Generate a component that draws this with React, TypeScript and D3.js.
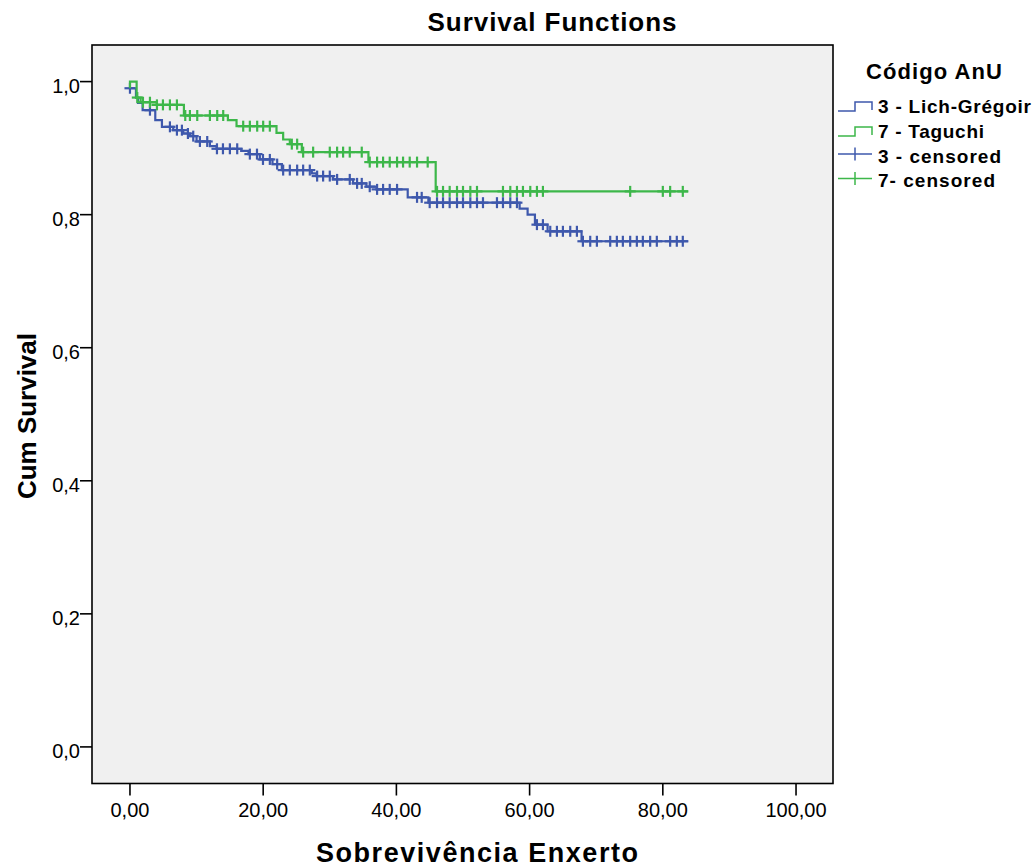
import React from 'react';
import * as d3 from 'd3';

// ---- data ----
const xTicks = [0, 20, 40, 60, 80, 100];
const yTicks = [0, 0.2, 0.4, 0.6, 0.8, 1.0];

const blueStepTimes = [0, 0.9, 1.2, 1.9, 3.8, 4.8, 6.5, 8.0, 9.0, 10.0, 12.0, 13.0, 16.7, 17.8, 19.5, 21.4, 22.8, 27.3, 28.0, 30.5, 33.5, 35.5, 37.0, 41.7, 44.8, 58.5, 59.7, 60.8, 62.7, 67.8];
const blueStepSurv = [0.99, 0.976, 0.968, 0.957, 0.942, 0.932, 0.927, 0.922, 0.918, 0.91, 0.903, 0.899, 0.896, 0.891, 0.883, 0.876, 0.867, 0.862, 0.858, 0.853, 0.847, 0.842, 0.838, 0.826, 0.818, 0.809, 0.8, 0.785, 0.775, 0.76];
const blueCensorTimes = [0, 3.0, 6.0, 7.05, 7.8, 8.7, 9.5, 10.5, 11.6, 13.06, 13.96, 15.0, 16.1, 18.0, 19.07, 19.97, 21.0, 22.1, 23.0, 24.0, 25.1, 26.0, 27.0, 28.1, 29.0, 30.0, 31.1, 33.0, 34.1, 34.8, 36.0, 37.1, 38.0, 39.0, 40.1, 43.1, 43.8, 45.0, 46.1, 47.0, 48.0, 49.1, 50.0, 51.1, 52.1, 53.0, 55.1, 56.0, 57.1, 58.1, 61.1, 62.0, 63.1, 64.1, 65.0, 66.1, 67.1, 68.0, 69.1, 70.1, 72.1, 73.1, 74.0, 75.1, 76.1, 77.0, 78.1, 79.1, 81.1, 82.1, 83.0];
const blueEndTime = 83.8;

const greenStepTimes = [0, 0, 1.0, 1.6, 4.0, 8.1, 14.7, 16.0, 22.0, 23.0, 24.0, 25.8, 35.8, 45.9];
const greenStepSurv = [0.99, 1.0, 0.976, 0.969, 0.965, 0.949, 0.942, 0.933, 0.923, 0.913, 0.906, 0.894, 0.879, 0.835];
const greenCensorTimes = [1.1, 1.95, 3.0, 4.05, 4.95, 6.0, 7.05, 8.3, 9.0, 10.1, 12.0, 13.1, 14.0, 17.0, 18.0, 19.1, 20.0, 21.0, 24.3, 25.1, 26.0, 27.5, 30.0, 31.1, 32.0, 33.0, 34.8, 36.0, 37.1, 38.0, 39.0, 40.1, 41.0, 42.0, 43.1, 44.7, 46.1, 47.0, 48.0, 49.1, 50.0, 51.1, 52.1, 56.0, 57.1, 58.1, 59.0, 60.1, 61.1, 62.0, 75.1, 80.0, 81.1, 83.0];
const greenEndTime = 83.8;

const legendLabels = ['3 - Lich-Grégoir', '7 - Taguchi', '3 - censored', '7- censored'];

const BLUE = '#3e58ac';
const GREEN = '#3db74a';
const FONT = '"Liberation Sans", Arial, sans-serif';

function survAt(times: number[], surv: number[], t: number) {
  let s = surv[0];
  for (let i = 0; i < times.length; i++) if (times[i] <= t) s = surv[i];
  return s;
}

export default function App() {
  const W = 1036, H = 868;
  const x = d3.scaleLinear().domain([-5.7, 105.55]).range([92, 833]);
  const y = d3.scaleLinear().domain([-0.055, 1.055]).range([783.5, 45]);
  const fmtX = (v: number) => d3.format('.2f')(v).replace('.', ',');
  const fmtY = (v: number) => d3.format('.1f')(v).replace('.', ',');

  const line = d3.line<[number, number]>().x(d => x(d[0])).y(d => y(d[1])).curve(d3.curveStepAfter);

  const series = [
    { times: blueStepTimes, surv: blueStepSurv, cens: blueCensorTimes, end: blueEndTime, color: BLUE },
    { times: greenStepTimes, surv: greenStepSurv, cens: greenCensorTimes, end: greenEndTime, color: GREEN },
  ];

  const [x0, x1] = x.range();
  const [yb, yt] = y.range();

  return (
    <svg width={W} height={H} style={{ position: 'absolute', left: 0, top: 0, background: '#fff' }} fontFamily={FONT}>
      <rect x={0} y={0} width={W} height={H} fill="#fff" />
      <text x={552} y={31} textAnchor="middle" fontSize={26} fontWeight="bold" textLength={249} lengthAdjust="spacing">Survival Functions</text>
      <rect x={x0} y={yt} width={x1 - x0} height={yb - yt} fill="#f0f0f0" stroke="#000" strokeWidth={1.6} />

      {series.map((s, i) => {
        const pts: [number, number][] = s.times.map((t, k) => [t, s.surv[k]] as [number, number]);
        pts.push([s.end, s.surv[s.surv.length - 1]]);
        return (
          <g key={i}>
            <path d={line(pts) || ''} fill="none" stroke={s.color} strokeWidth={2.2} />
            {s.cens.map((t, k) => {
              const cx = x(t), cy = y(survAt(s.times, s.surv, t));
              return (
                <g key={k} stroke={s.color} strokeWidth={2.2}>
                  <line x1={cx} x2={cx} y1={cy - 5.5} y2={cy + 5.5} />
                  <line x1={cx - 5.5} x2={cx + 5.5} y1={cy} y2={cy} />
                </g>
              );
            })}
          </g>
        );
      })}

      {/* x axis */}
      {xTicks.map(t => (
        <g key={t}>
          <line x1={x(t)} x2={x(t)} y1={yb} y2={yb + 12} stroke="#000" strokeWidth={1.6} />
          <text x={x(t)} y={817} textAnchor="middle" fontSize={20}>{fmtX(t)}</text>
        </g>
      ))}
      <text x={477} y={862} textAnchor="middle" fontSize={27} fontWeight="bold" textLength={322} lengthAdjust="spacing">Sobrevivência Enxerto</text>

      {/* y axis */}
      {yTicks.map(t => (
        <g key={t}>
          <line x1={x0 - 12} x2={x0} y1={y(t)} y2={y(t)} stroke="#000" strokeWidth={1.6} />
          <text x={80} y={y(t) + 11} textAnchor="end" fontSize={20}>{fmtY(t)}</text>
        </g>
      ))}
      <text transform="translate(36,416) rotate(-90)" textAnchor="middle" fontSize={26} fontWeight="bold" textLength={166} lengthAdjust="spacing">Cum Survival</text>

      {/* legend */}
      <text x={866} y={79} fontSize={22} fontWeight="bold" textLength={136} lengthAdjust="spacing">Código AnU</text>
      {legendLabels.map((lab, i) => {
        const base = [113, 138, 162.5, 187][i];
        const color = i % 2 === 0 ? BLUE : GREEN;
        const widths = [153, 106, 123, 117];
        return (
          <g key={lab}>
            {i < 2 ? (
              <path d={`M838,${base - 2}H855V${base - 11}H872V${base - 3}`} fill="none" stroke={color} strokeWidth={1.5} />
            ) : (
              <g stroke={color} strokeWidth={1.5}>
                <line x1={838} x2={872} y1={base - 8.5} y2={base - 8.5} />
                <line x1={855} x2={855} y1={base - 15} y2={base - 2} />
              </g>
            )}
            <text x={878} y={base} fontSize={19} fontWeight="bold" textLength={widths[i]} lengthAdjust="spacing">{lab}</text>
          </g>
        );
      })}
    </svg>
  );
}
